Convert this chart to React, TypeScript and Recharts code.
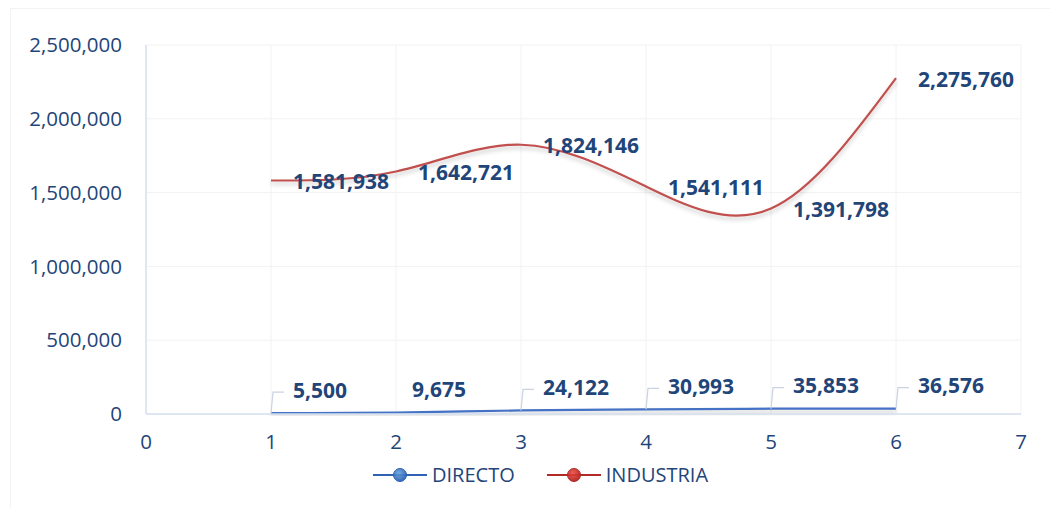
import React from 'react';
import { LineChart, Line, XAxis, YAxis, CartesianGrid, LabelList } from 'recharts';

const periods = [1, 2, 3, 4, 5, 6];
const directo = [5500, 9675, 24122, 30993, 35853, 36576];
const industria = [1581938, 1642721, 1824146, 1541111, 1391798, 2275760];
const xTicks = [0, 1, 2, 3, 4, 5, 6, 7];
const yTicks = [0, 500000, 1000000, 1500000, 2000000, 2500000];
const seriesNames = ['DIRECTO', 'INDUSTRIA'];

const data = periods.map((p, i) => ({ x: p, directo: directo[i], industria: industria[i] }));

const TEXT = '#1F4579';
const BLUE = '#4472C4';
const RED = '#C0504D';
const FONT = '"Open Sans", "Noto Sans", sans-serif';
const fmt = (v: number) => v.toLocaleString('en-US');

// industria labels sit to the right of the point
const IndustriaLabel = (props: any) => {
  const { x, y, value } = props;
  return (
    <text x={x + 22} y={y + 3} dominantBaseline="middle" fill={TEXT}
      fontFamily={FONT} fontWeight={700} fontSize={21}>
      {fmt(value)}
    </text>
  );
};

// directo labels sit above-right, most with a little leader line
const DirectoLabel = (props: any) => {
  const { x, y, value, index } = props;
  const ly = y - 21;
  const leader = index !== 1;
  return (
    <g>
      {leader && (
        <path d={`M${x},${y} L${x + 2},${ly} L${x + 13},${ly}`} fill="none" stroke="#C9D3E2" strokeWidth={1.2} />
      )}
      <text x={x + (leader ? 22 : 16)} y={ly} dominantBaseline="middle" fill={TEXT}
        fontFamily={FONT} fontWeight={700} fontSize={21}>
        {fmt(value)}
      </text>
    </g>
  );
};

const LegendItem = ({ color, dark, label }: { color: string; dark: string; label: string }) => (
  <div style={{ display: 'flex', alignItems: 'center', marginRight: 32 }}>
    <svg width={54} height={16}>
      <defs>
        <radialGradient id={`lg-${label}`} cx="40%" cy="35%" r="70%">
          <stop offset="0%" stopColor={color} stopOpacity={0.85} />
          <stop offset="100%" stopColor={dark} />
        </radialGradient>
      </defs>
      <line x1={0} y1={8} x2={54} y2={8} stroke={dark} strokeWidth={2} />
      <circle cx={27} cy={8} r={6.5} fill={`url(#lg-${label})`} stroke={dark} strokeWidth={1} />
    </svg>
    <span style={{ marginLeft: 5, fontFamily: FONT, fontSize: 20, color: TEXT }}>{label}</span>
  </div>
);

export default function App() {
  return (
    <div style={{ position: 'absolute', left: 0, top: 0, width: 1050, height: 508, background: '#fff' }}>
      <div style={{ position: 'absolute', left: 10, top: 8, width: 1040, height: 500, border: '1px solid #F3F3F3', borderRight: 'none', borderBottom: 'none' }} />
      <LineChart width={1050} height={508} data={data}
        margin={{ top: 45, right: 29, bottom: 64, left: 0 }}>
        <defs>
          <filter id="shadow" x="-5%" y="-20%" width="110%" height="160%">
            <feDropShadow dx={0} dy={3} stdDeviation={2} floodColor="#000" floodOpacity={0.22} />
          </filter>
        </defs>
        <CartesianGrid stroke="#F2F2F2" strokeWidth={1} />
        <XAxis dataKey="x" type="number" domain={[0, 7]} ticks={xTicks} height={30}
          axisLine={{ stroke: '#D5E0EF', strokeWidth: 1.5 }} tickLine={false} tickMargin={14}
          tick={{ fill: TEXT, fontFamily: FONT, fontSize: 20.5 }} />
        <YAxis type="number" domain={[0, 2500000]} ticks={yTicks} width={146}
          axisLine={{ stroke: '#D5E0EF', strokeWidth: 1.5 }} tickLine={false} tickMargin={18}
          tickFormatter={fmt} tick={{ fill: TEXT, fontFamily: FONT, fontSize: 20.5 }} />
        <Line dataKey="directo" name={seriesNames[0]} type="natural" stroke={BLUE} strokeWidth={2.2}
          dot={false} isAnimationActive={false} filter="url(#shadow)">
          <LabelList dataKey="directo" content={DirectoLabel} />
        </Line>
        <Line dataKey="industria" name={seriesNames[1]} type="natural" stroke={RED} strokeWidth={2.2}
          dot={false} isAnimationActive={false} filter="url(#shadow)">
          <LabelList dataKey="industria" content={IndustriaLabel} />
        </Line>
      </LineChart>
      <div style={{ position: 'absolute', left: 373, top: 461, display: 'flex', alignItems: 'center' }}>
        <LegendItem color="#5B9BD5" dark="#2F62B5" label={seriesNames[0]} />
        <LegendItem color="#E8413A" dark="#B22A25" label={seriesNames[1]} />
      </div>
    </div>
  );
}
